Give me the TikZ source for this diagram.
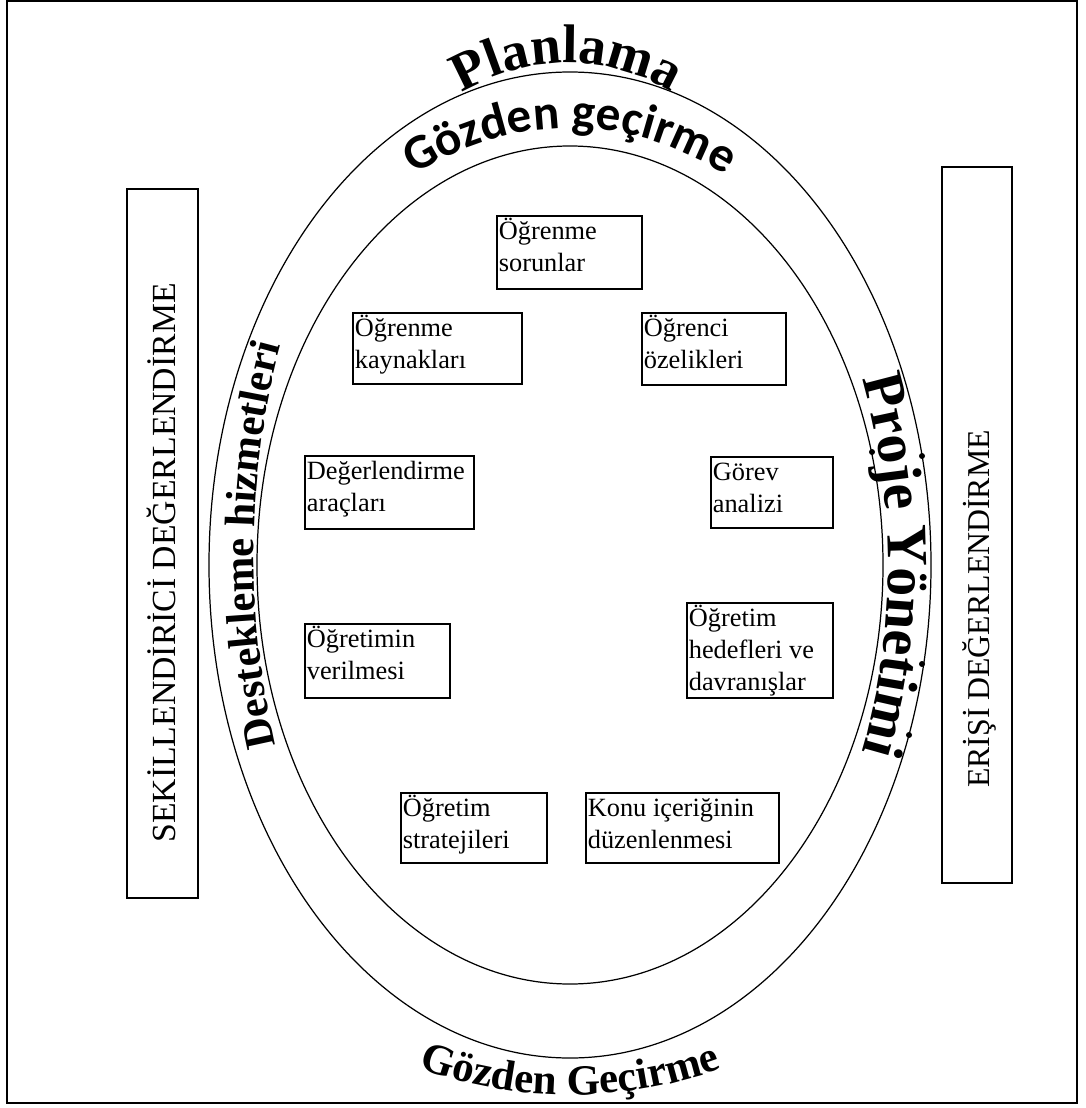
\documentclass[tikz,border=0pt]{standalone}
\usepackage{fontspec}
\setmainfont{Liberation Serif}
\newfontfamily\planYazi{Liberation Serif}
\newfontfamily\gozYazi{Carlito}
\newfontfamily\destekYazi{Liberation Serif}
\newfontfamily\projeYazi{Liberation Serif}
\newfontfamily\altYazi{Liberation Serif}
\usepackage{tikz}
\usetikzlibrary{decorations.text,positioning,calc}
\tikzstyle{kutu}     = [draw, line width=1pt, anchor=north west, inner sep=0pt]
\tikzstyle{kutuyazi} = [anchor=north west, inner sep=0.05cm, align=left,
                        font=\fontsize{15}{18}\selectfont]
\tikzstyle{uzunkutu} = [draw, line width=1.1pt, inner sep=0pt]
\tikzstyle{dikyazi}  = [rotate=90, inner sep=0pt]
\tikzstyle{halka}    = [line width=0.7pt]

\begin{document}
\begin{tikzpicture}[x=0.02cm, y=-0.02cm]

  \useasboundingbox (0,0) rectangle (1085,1108);
  \draw[line width=1.1pt] (7,1) rectangle (1077,1103);

  % halkalar
  \coordinate (merkez) at (570,565);
  \draw[halka] (merkez) ellipse [x radius=361, y radius=493];
  \draw[halka] (merkez) ellipse [x radius=313, y radius=419];
  \foreach \p in {(922,456),(922,664),(909,735),(872,452)}
    \fill \p circle [radius=3];

  % kavisli yazilar
  \path[decorate, decoration={text along path, text align=center,
      text={|\planYazi\bfseries\fontsize{31}{37}\selectfont|Planlama}}]
    plot[domain=240:300, samples=90, variable=\t] ({567+311*cos(\t)}, {565+502*sin(\t)});
  \path[decorate, decoration={text along path, text align=center,
      text={|\gozYazi\bfseries\fontsize{28}{33}\selectfont|Gözden geçirme}}]
    plot[domain=225:315, samples=120, variable=\t] ({570+344*cos(\t)}, {565+437*sin(\t)});
  \path[decorate, decoration={text along path, text align=center,
      text={|\destekYazi\bfseries\fontsize{24.3}{29}\selectfont|Destekleme hizmetleri}}]
    plot[domain=125:238, samples=140, variable=\t] ({570+316*cos(\t)}, {555+520*sin(\t)});
  \path[decorate, decoration={text along path, text align=center,
      text={|\projeYazi\bfseries\fontsize{33}{39}\selectfont|Proje Yönetimi}}]
    plot[domain=-50:50, samples=120, variable=\t] ({570+318*cos(\t)}, {565+470*sin(\t)});
  \path[decorate, decoration={text along path, text align=center,
      text={|\altYazi\bfseries\fontsize{24.5}{29}\selectfont|Gözden Geçirme}}]
    plot[domain=65:115, samples=90, variable=\t] ({570-482*cos(\t)}, {565+530*sin(\t)});

  % yan kutular
  \node[uzunkutu, minimum width=1.42cm, minimum height=14.18cm] (sekil) at (162.5,543.5) {};
  \node[dikyazi, font=\fontsize{19.2}{23}\selectfont] (sekilyazi) at (161,563)
    {SEKİLLENDİRİCİ DEĞERLENDİRME};
  \node[uzunkutu, minimum width=1.40cm, minimum height=14.32cm] (erisi) at (977,525) {};
  \node[dikyazi, font=\fontsize{18.1}{22}\selectfont] (erisiyazi) at (979,609)
    {ERİŞİ DEĞERLENDİRME};

  % ic kutular
  \node[kutu, minimum width=2.90cm, minimum height=1.46cm,
        label={[kutuyazi]north west:{\strut Öğrenme\\sorunlar}}] (sorun) at (496,215) {};
  \node[kutu, minimum width=3.38cm, minimum height=1.42cm,
        label={[kutuyazi]north west:{\strut Öğrenme\\kaynakları}}] (kaynak) at (352,312) {};
  \node[kutu, minimum width=2.88cm, minimum height=1.44cm,
        label={[kutuyazi]north west:{\strut Öğrenci\\özelikleri}}] (ozellik) at (641,312) {};
  \node[kutu, minimum width=3.38cm, minimum height=1.46cm,
        label={[kutuyazi]north west:{\strut Değerlendirme\\araçları}}] (arac) at (304,455) {};
  \node[kutu, minimum width=2.44cm, minimum height=1.42cm,
        label={[kutuyazi]north west:{\strut Görev\\analizi}}] (gorev) at (710,456) {};
  \node[kutu, minimum width=2.90cm, minimum height=1.48cm,
        label={[kutuyazi]north west:{\strut Öğretimin\\verilmesi}}] (verilme) at (304,623) {};
  \node[kutu, minimum width=2.92cm, minimum height=1.90cm,
        label={[kutuyazi]north west:{\strut Öğretim\\hedefleri ve\\davranışlar}}] (hedef) at (686,602) {};
  \node[kutu, minimum width=2.92cm, minimum height=1.40cm,
        label={[kutuyazi]north west:{\strut Öğretim\\stratejileri}}] (strateji) at (400,792) {};
  \node[kutu, minimum width=3.86cm, minimum height=1.40cm,
        label={[kutuyazi]north west:{\strut Konu içeriğinin\\düzenlenmesi}}] (konu) at (585,792) {};

\end{tikzpicture}
\end{document}
